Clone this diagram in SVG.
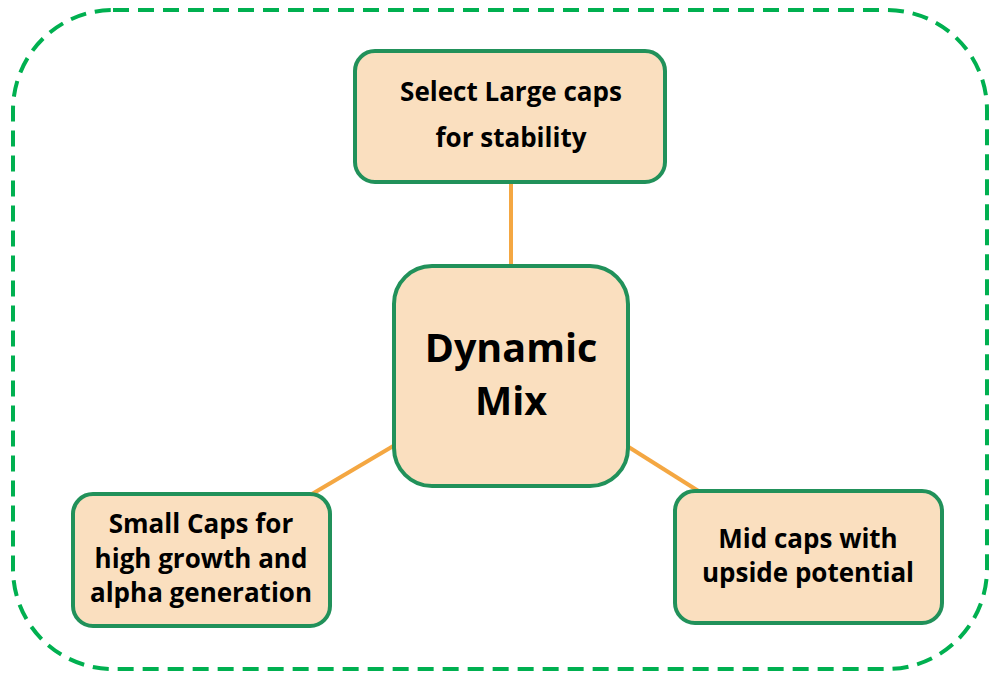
<svg xmlns="http://www.w3.org/2000/svg" width="989" height="674" viewBox="0 0 989 674">
<style>
.node rect{fill:#fadfbf;stroke:#21915a;stroke-width:4}
.node text{font-family:"Open Sans","Liberation Sans",Arial,sans-serif;font-weight:bold;fill:#000;text-anchor:middle;font-size:26px}
.node text.big{font-size:39.5px}
.conn line{stroke:#f4a742;stroke-width:4}
</style>
<rect x="13" y="10" width="974" height="659" rx="100" ry="100" fill="#fff" stroke="#00b050" stroke-width="4" stroke-dasharray="16 9"/>
<g class="conn" id="connectors">
<line x1="511" y1="182" x2="511" y2="265"/>
<line x1="395" y1="445" x2="312" y2="494"/>
<line x1="627" y1="446" x2="700" y2="492"/>
</g>
<g class="node" id="large">
<rect x="355" y="51" width="310" height="131" rx="20"/>
<text x="511" y="101">Select Large caps</text>
<text x="511" y="147">for stability</text>
</g>
<g class="node" id="center">
<rect x="394" y="266" width="234" height="220" rx="38"/>
<text class="big" x="511" y="362">Dynamic</text>
<text class="big" x="511" y="415">Mix</text>
</g>
<g class="node" id="small">
<rect x="73" y="494" width="257" height="132" rx="20"/>
<text x="201" y="533">Small Caps for</text>
<text x="201" y="568">high growth and</text>
<text x="201" y="602">alpha generation</text>
</g>
<g class="node" id="mid">
<rect x="675" y="491" width="267" height="132" rx="20"/>
<text x="808" y="548">Mid caps with</text>
<text x="808" y="582">upside potential</text>
</g>
</svg>
